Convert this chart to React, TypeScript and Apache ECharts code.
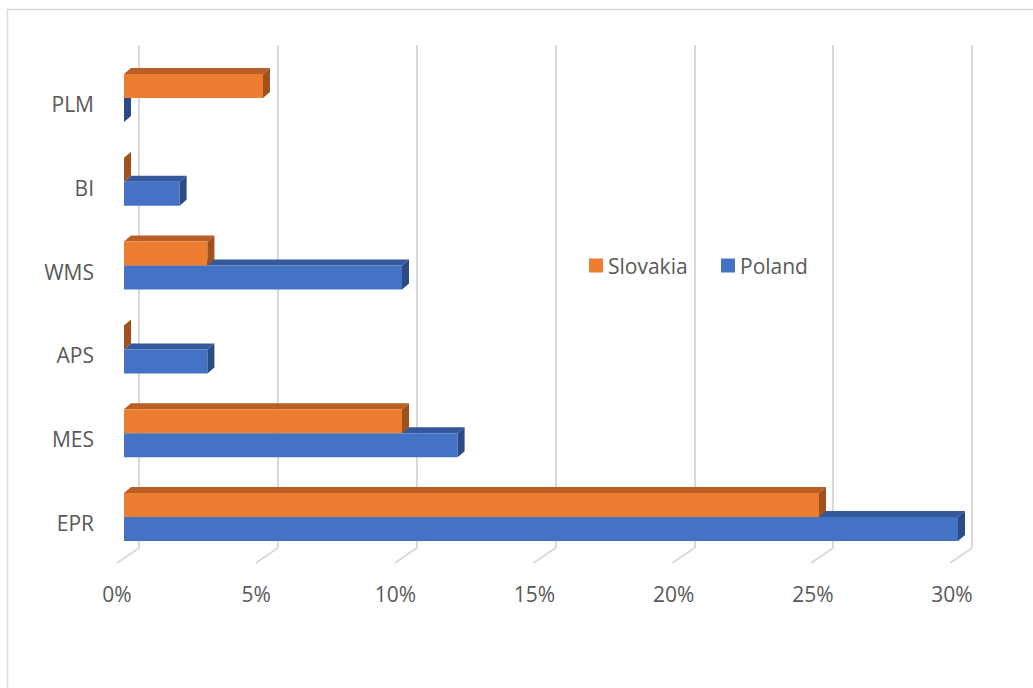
import React, { useEffect, useRef } from "react";
import * as echarts from "echarts";

const categories = ["EPR", "MES", "APS", "WMS", "BI", "PLM"];
const slovakia = [25, 10, 0, 3, 0, 5];
const poland = [30, 12, 3, 10, 2, 0];
const xTicks = [0, 5, 10, 15, 20, 25, 30];

const FONT = "'Open Sans', 'Noto Sans', sans-serif";
const TEXT = "#595959";
const GRID_C = "#d9d9d9";

const DX = 7;
const DY = 6;
const BAR_H = 24;

function barRenderer(offset: number, front: string, top: string, side: string) {
  return (params: any, api: any) => {
    const cat = api.value(0);
    const val = api.value(1);
    const p0 = api.coord([0, cat]);
    const p1 = api.coord([val, cat]);
    const x0 = p0[0];
    const x1 = p1[0];
    const yT = p0[1] + offset;
    const yB = yT + BAR_H;
    const children: any[] = [];
    if (x1 - x0 > 0.5) {
      children.push({
        type: "polygon",
        shape: { points: [[x0, yT], [x0 + DX, yT - DY], [x1 + DX, yT - DY], [x1, yT]] },
        style: { fill: top },
      });
      children.push({
        type: "rect",
        shape: { x: x0, y: yT, width: x1 - x0, height: BAR_H },
        style: { fill: front },
      });
    }
    children.push({
      type: "polygon",
      shape: { points: [[x1, yT], [x1 + DX, yT - DY], [x1 + DX, yB - DY], [x1, yB]] },
      style: { fill: side },
    });
    return { type: "group", children };
  };
}

export default function App() {
  const ref = useRef<HTMLDivElement>(null);
  useEffect(() => {
    if (!ref.current) return;
    const chart = echarts.init(ref.current, undefined, { renderer: "svg" });
    chart.setOption({
      animation: false,
      backgroundColor: "#ffffff",
      graphic: [
        {
          type: "rect",
          shape: { x: 7.5, y: 9.5, width: 1040, height: 700 },
          style: { fill: "none", stroke: GRID_C, lineWidth: 1.5 },
          silent: true,
          z: -10,
        },
      ],
      legend: [
        {
          data: ["Slovakia"],
          left: 584,
          top: 250,
          icon: "rect",
          itemWidth: 14,
          itemHeight: 14,
          textStyle: { color: TEXT, fontSize: 21, fontFamily: FONT },
        },
        {
          data: ["Poland"],
          left: 716,
          top: 250,
          icon: "rect",
          itemWidth: 14,
          itemHeight: 14,
          textStyle: { color: TEXT, fontSize: 21, fontFamily: FONT },
        },
      ],
      grid: [
        { left: 124, top: 56, width: 834, height: 503 },
        { left: 139, top: 45, width: 833, height: 503 },
        { left: 117, top: 563, width: 835, height: 1 },
      ],
      xAxis: [
        {
          gridIndex: 0,
          type: "value",
          min: 0,
          max: 30,
          interval: 5,
          axisLine: { show: false },
          axisTick: { show: false },
          axisLabel: { show: false },
          splitLine: { show: false },
        },
        {
          gridIndex: 1,
          type: "value",
          min: 0,
          max: 30,
          interval: 5,
          axisLine: { show: false },
          axisTick: { show: false },
          axisLabel: { show: false },
          splitLine: { show: true, lineStyle: { color: GRID_C, width: 2 } },
        },
        {
          gridIndex: 2,
          type: "value",
          min: 0,
          max: 30,
          interval: 5,
          axisLine: { show: false },
          axisTick: { show: false },
          splitLine: { show: false },
          axisLabel: {
            formatter: "{value}%",
            color: TEXT,
            fontSize: 21,
            fontFamily: FONT,
            margin: 19,
          },
        },
      ],
      yAxis: [
        {
          gridIndex: 0,
          type: "category",
          data: categories,
          axisLine: { show: false },
          axisTick: { show: false },
          splitLine: { show: false },
          axisLabel: {
            margin: 30,
            formatter: "{a|{value}}",
            rich: {
              a: {
                color: TEXT,
                fontSize: 21,
                fontFamily: FONT,
                padding: [12, 0, 0, 0],
              },
            },
          },
        },
        { gridIndex: 1, type: "value", min: 0, max: 1, show: false, splitLine: { show: false } },
        { gridIndex: 2, type: "value", min: 0, max: 1, show: false, splitLine: { show: false } },
      ],
      series: [
        {
          type: "custom",
          name: "floor",
          xAxisIndex: 1,
          yAxisIndex: 1,
          silent: true,
          data: xTicks.map((v) => [v, 0]),
          encode: { x: 0, y: 1 },
          renderItem: (params: any, api: any) => {
            const p = api.coord([api.value(0), 0]);
            return {
              type: "line",
              shape: { x1: p[0], y1: p[1], x2: p[0] - 22, y2: p[1] + 15 },
              style: { stroke: GRID_C, lineWidth: 2 },
            };
          },
          z: 1,
        },
        {
          type: "custom",
          name: "Poland",
          xAxisIndex: 0,
          yAxisIndex: 0,
          itemStyle: { color: "#4472C4" },
          data: poland.map((v, i) => [i, v]),
          encode: { x: 1, y: 0 },
          renderItem: barRenderer(0, "#4472C4", "#33589C", "#2B4A86"),
          z: 3,
        },
        {
          type: "custom",
          name: "Slovakia",
          xAxisIndex: 0,
          yAxisIndex: 0,
          itemStyle: { color: "#ED7D31" },
          data: slovakia.map((v, i) => [i, v]),
          encode: { x: 1, y: 0 },
          renderItem: barRenderer(-BAR_H, "#ED7D31", "#BA5E26", "#A0511D"),
          z: 4,
        },
      ],
    });
    return () => chart.dispose();
  }, []);
  return (
    <div
      ref={ref}
      style={{ position: "fixed", left: 0, top: 0, width: 1033, height: 688 }}
    />
  );
}
